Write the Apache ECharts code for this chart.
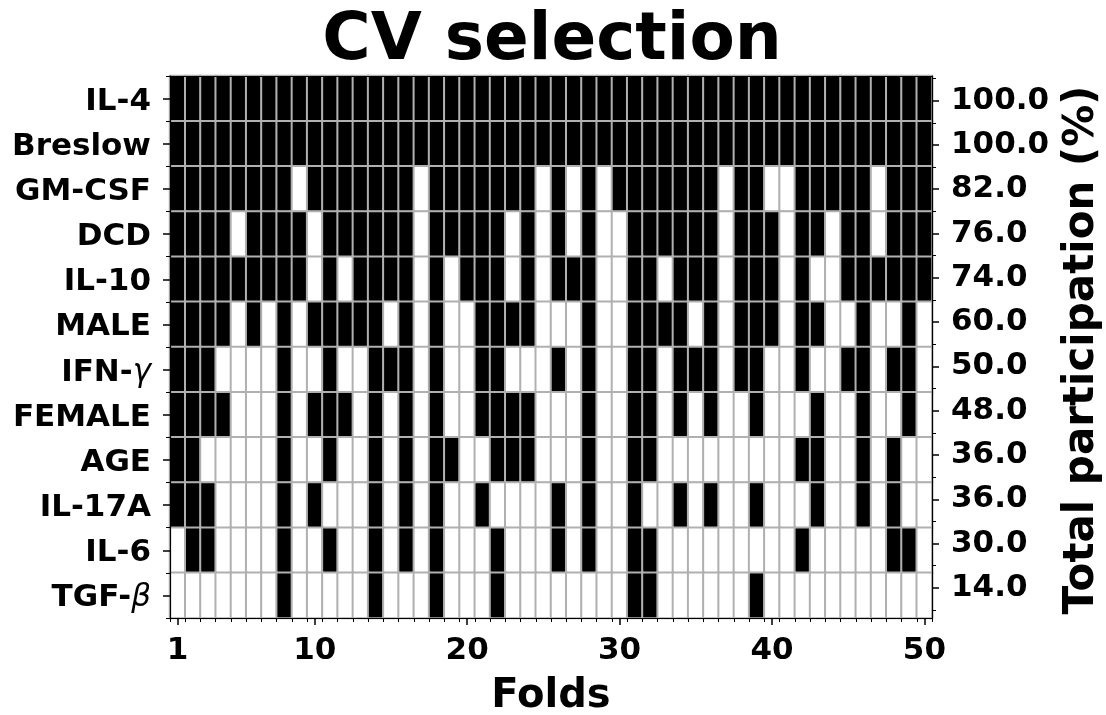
<!DOCTYPE html>
<html><head><meta charset="utf-8">
<script src="https://cdn.jsdelivr.net/npm/echarts@6/dist/echarts.min.js"></script>
<style>html,body{margin:0;padding:0;background:#fff}#c{width:1106px;height:715px}</style>
</head><body><div id="c"></div>
<script>
// ---- data ----
const features = ['IL-4','Breslow','GM-CSF','DCD','IL-10','MALE','IFN-γ','FEMALE','AGE','IL-17A','IL-6','TGF-β'];
const participation = ['100.0','100.0','82.0','76.0','74.0','60.0','50.0','48.0','36.0','36.0','30.0','14.0'];
const folds = ['1','2','3','4','5','6','7','8','9','10','11','12','13','14','15','16','17','18','19','20',
  '21','22','23','24','25','26','27','28','29','30','31','32','33','34','35','36','37','38','39','40',
  '41','42','43','44','45','46','47','48','49','50'];
const xTickLabels = ['1','10','20','30','40','50'];

// selection per fold (1 = selected), folds 1..50
const selIL4    = [1,1,1,1,1,1,1,1,1,1, 1,1,1,1,1,1,1,1,1,1, 1,1,1,1,1,1,1,1,1,1, 1,1,1,1,1,1,1,1,1,1, 1,1,1,1,1,1,1,1,1,1];
const selBreslow= [1,1,1,1,1,1,1,1,1,1, 1,1,1,1,1,1,1,1,1,1, 1,1,1,1,1,1,1,1,1,1, 1,1,1,1,1,1,1,1,1,1, 1,1,1,1,1,1,1,1,1,1];
const selGMCSF  = [1,1,1,1,1,1,1,1,0,1, 1,1,1,1,1,1,0,1,1,1, 1,1,1,1,0,1,0,1,0,1, 1,1,1,1,1,1,0,1,1,0, 0,1,1,1,1,1,0,1,1,1];
const selDCD    = [1,1,1,1,0,1,1,1,1,0, 1,1,1,1,1,1,0,1,1,1, 1,1,0,1,0,1,0,1,0,0, 1,1,1,1,1,1,0,1,1,1, 0,1,1,0,1,1,0,1,1,1];
const selIL10   = [1,1,1,1,1,1,1,1,1,0, 1,0,1,1,1,1,0,1,0,1, 1,1,0,1,0,1,1,1,0,0, 1,1,0,1,1,1,0,1,1,1, 0,1,0,0,1,1,1,1,1,1];
const selMALE   = [1,1,1,1,0,1,0,1,0,1, 1,1,1,1,0,1,0,1,0,0, 1,1,1,1,0,0,0,1,0,0, 1,1,1,1,0,1,0,1,1,1, 0,1,1,0,0,1,0,0,1,0];
const selIFNG   = [1,1,1,0,0,0,0,1,0,0, 1,0,0,1,1,1,0,1,0,0, 1,1,0,0,0,1,0,1,0,0, 1,1,0,1,1,1,0,1,1,0, 0,1,0,0,1,1,0,1,1,0];
const selFEMALE = [1,1,1,1,0,0,0,1,0,1, 1,1,0,1,0,1,0,1,0,0, 1,1,1,1,0,0,0,1,0,0, 1,1,0,1,0,1,0,0,1,0, 0,0,1,0,0,1,0,0,1,0];
const selAGE    = [1,1,0,0,0,0,0,1,0,0, 1,0,0,1,0,1,0,1,1,0, 0,1,1,1,0,0,0,1,0,0, 1,1,0,0,0,0,0,0,0,0, 0,1,1,0,0,1,0,1,0,0];
const selIL17A  = [1,1,1,0,0,0,0,1,0,1, 0,0,0,1,0,1,0,1,0,0, 1,0,0,0,0,1,0,1,0,0, 1,0,0,1,0,1,0,0,1,0, 0,0,1,0,0,1,0,1,0,0];
const selIL6    = [0,1,1,0,0,0,0,1,0,0, 1,0,0,1,0,1,0,1,0,0, 0,1,0,0,0,1,0,1,0,0, 1,1,0,0,0,0,0,0,0,0, 0,1,0,0,0,0,0,1,1,0];
const selTGFB   = [0,0,0,0,0,0,0,1,0,0, 0,0,0,1,0,0,0,1,0,0, 0,1,0,0,0,0,0,0,0,0, 1,1,0,0,0,0,0,0,1,0, 0,0,0,0,0,0,0,0,0,0];

const rows = [selIL4, selBreslow, selGMCSF, selDCD, selIL10, selMALE, selIFNG, selFEMALE, selAGE, selIL17A, selIL6, selTGFB];

// ---- build heatmap data ----
const cells = [];
rows.forEach((r, yi) => r.forEach((v, xi) => cells.push([xi, yi, v])));

const FONT = 'DejaVu Sans';
const lab = { fontFamily: FONT, fontWeight: 'bold', fontSize: 31, color: '#000' };
const frameLine = { show: true, lineStyle: { color: '#000', width: 1.2 } };

const chart = echarts.init(document.getElementById('c'), null, { renderer: 'canvas' });
chart.setOption({
  animation: false,
  backgroundColor: '#fff',
  grid: [
    { left: 170, right: 174, top: 76, bottom: 97 },
    { left: 170, right: 174, top: 78.5, bottom: 105 }
  ],
  xAxis: [
    { // minor ticks at cell boundaries + bottom frame
      type: 'category', gridIndex: 0, position: 'bottom', data: folds, z: 10,
      axisLine: frameLine,
      axisTick: { show: true, interval: 0, length: 4, lineStyle: { color: '#000', width: 1 } },
      axisLabel: { show: false }, splitLine: { show: false }
    },
    { // major ticks + labels
      type: 'category', gridIndex: 0, position: 'bottom', data: folds, z: 10,
      axisLine: { show: false },
      axisTick: { show: true, alignWithLabel: true, length: 7, lineStyle: { color: '#000', width: 1.5 },
        interval: (i, v) => xTickLabels.includes(v) },
      axisLabel: Object.assign({ show: true, margin: 17, interval: (i, v) => xTickLabels.includes(v) }, lab),
      splitLine: { show: false }
    },
    { // top frame
      type: 'category', gridIndex: 0, position: 'top', data: folds, z: 10,
      axisLine: frameLine, axisTick: { show: false }, axisLabel: { show: false }
    },
    { type: 'category', gridIndex: 1, data: folds, show: false }
  ],
  yAxis: [
    { // left labels + major ticks + frame
      type: 'category', gridIndex: 0, position: 'left', inverse: true, data: features, z: 10,
      axisLine: frameLine,
      axisTick: { show: true, alignWithLabel: true, interval: 0, length: 7, lineStyle: { color: '#000', width: 1.5 } },
      axisLabel: Object.assign({ show: true, interval: 0, margin: 19, padding: [6, 0, 0, 0],
        formatter: v => v.replace(/([γβ])/, '{it|$1}'),
        rich: { it: { fontFamily: FONT, fontStyle: 'italic', fontWeight: 'normal', fontSize: 31, color: '#000' } }
      }, lab)
    },
    { // left minor ticks at boundaries
      type: 'category', gridIndex: 0, position: 'left', inverse: true, data: features, z: 10,
      axisLine: { show: false },
      axisTick: { show: true, interval: 0, length: 4, lineStyle: { color: '#000', width: 1 } },
      axisLabel: { show: false }
    },
    { // right frame
      type: 'category', gridIndex: 0, position: 'right', inverse: true, data: features, z: 10,
      axisLine: frameLine, axisTick: { show: false }, axisLabel: { show: false }
    },
    { // right participation labels
      type: 'category', gridIndex: 1, position: 'right', inverse: true, data: participation, z: 10,
      axisLine: { show: false },
      axisTick: { show: true, alignWithLabel: true, interval: 0, length: 7, lineStyle: { color: '#000', width: 1.5 } },
      axisLabel: Object.assign({ show: true, interval: 0, margin: 19, padding: [10, 0, 0, 0] }, lab)
    },
    { // right minor ticks
      type: 'category', gridIndex: 1, position: 'right', inverse: true, data: participation, z: 10,
      axisLine: { show: false },
      axisTick: { show: true, interval: 0, length: 4, lineStyle: { color: '#000', width: 1 } },
      axisLabel: { show: false }
    }
  ],
  visualMap: {
    type: 'piecewise', show: false, dimension: 2, seriesIndex: 0,
    pieces: [{ value: 0, color: '#ffffff' }, { value: 1, color: '#000000' }]
  },
  series: [{
    type: 'heatmap', xAxisIndex: 0, yAxisIndex: 0, data: cells,
    itemStyle: { borderColor: '#b0b0b0', borderWidth: 2 },
    emphasis: { disabled: true }, silent: true
  }],
  graphic: [
    { type: 'text', x: 552, y: 42, style: { text: 'CV selection', font: 'bold 66px "DejaVu Sans"', fill: '#000', textAlign: 'center', textVerticalAlign: 'middle' } },
    { type: 'text', x: 551, y: 697, style: { text: 'Folds', font: 'bold 40px "DejaVu Sans"', fill: '#000', textAlign: 'center', textVerticalAlign: 'middle' } },
    { type: 'text', x: 1082, y: 350, rotation: Math.PI / 2, style: { text: 'Total participation (%)', font: 'bold 42px "DejaVu Sans"', fill: '#000', textAlign: 'center', textVerticalAlign: 'middle' } }
  ]
});
</script></body></html>
